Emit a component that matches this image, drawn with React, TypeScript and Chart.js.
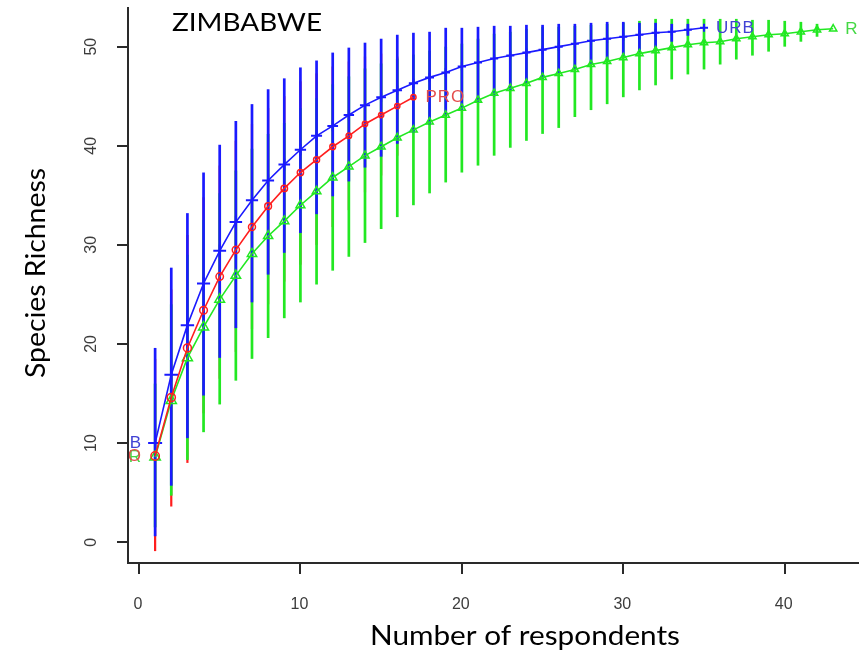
import React, { useEffect, useRef } from "react";
import { Chart, registerables } from "chart.js";
Chart.register(...registerables);

// ---------- data ----------
const seriesNames = ["URB", "PRO", "RUR"];
const chartTitle = "ZIMBABWE";
const xTitle = "Number of respondents";
const yTitle = "Species Richness";
const xTicks = [0, 10, 20, 30, 40];
const yTicks = [0, 10, 20, 30, 40, 50];

const urbN = [1, 2, 3, 4, 5, 6, 7, 8, 9, 10, 11, 12, 13, 14, 15, 16, 17, 18, 19, 20, 21, 22, 23, 24, 25, 26, 27, 28, 29, 30, 31, 32, 33, 34, 35];
const urbMean = [10.0, 16.9, 21.9, 26.1, 29.4, 32.3, 34.5, 36.5, 38.1, 39.6, 41.0, 42.0, 43.1, 44.1, 44.9, 45.6, 46.3, 46.9, 47.4, 48.0, 48.4, 48.8, 49.1, 49.4, 49.7, 50.0, 50.3, 50.6, 50.8, 51.0, 51.2, 51.4, 51.5, 51.7, 51.9];
const urbLower = [0.6, 5.7, 10.5, 14.8, 18.6, 21.6, 24.2, 27.0, 29.2, 31.2, 33.1, 34.9, 36.4, 37.8, 38.9, 40.2, 41.3, 42.1, 43.0, 43.6, 44.4, 45.0, 45.6, 46.3, 46.8, 47.3, 47.8, 48.3, 48.7, 49.1, 49.5, 49.9, 50.5, 51.1, null];
const urbUpper = [19.6, 27.7, 33.2, 37.3, 40.1, 42.5, 44.2, 45.7, 46.8, 47.9, 48.6, 49.4, 49.9, 50.4, 50.8, 51.2, 51.4, 51.5, 51.9, 51.9, 52.0, 52.1, 52.1, 52.2, 52.2, 52.3, 52.3, 52.4, 52.5, 52.5, 52.4, 52.4, 52.3, 52.3, null];

const proN = [1, 2, 3, 4, 5, 6, 7, 8, 9, 10, 11, 12, 13, 14, 15, 16, 17];
const proMean = [8.7, 14.6, 19.6, 23.4, 26.8, 29.5, 31.8, 33.9, 35.7, 37.3, 38.6, 39.9, 41.0, 42.2, 43.1, 44.0, 44.9];
const proLower = [-0.9, 3.6, 8.0, 13.0, 16.5, 19.2, 21.5, 24.0, 26.3, 28.0, 30.0, 31.8, 33.5, 35.3, 37.0, 39.0, null];
const proUpper = [18.5, 25.5, 31.0, 34.8, 38.0, 40.5, 42.2, 43.8, 45.0, 46.5, 47.3, 48.0, 48.5, 49.0, 49.3, 49.0, null];

const rurN = [1, 2, 3, 4, 5, 6, 7, 8, 9, 10, 11, 12, 13, 14, 15, 16, 17, 18, 19, 20, 21, 22, 23, 24, 25, 26, 27, 28, 29, 30, 31, 32, 33, 34, 35, 36, 37, 38, 39, 40, 41, 42, 43];
const rurMean = [8.6, 14.3, 18.6, 21.7, 24.5, 26.9, 29.1, 30.9, 32.4, 34.0, 35.4, 36.8, 37.9, 39.0, 39.9, 40.8, 41.6, 42.4, 43.1, 43.8, 44.6, 45.3, 45.8, 46.3, 46.9, 47.3, 47.7, 48.2, 48.5, 48.9, 49.3, 49.6, 49.9, 50.2, 50.4, 50.5, 50.8, 51.0, 51.2, 51.3, 51.5, 51.7, 51.8];
const rurLower = [1.5, 4.7, 8.3, 11.1, 13.9, 16.3, 18.5, 20.6, 22.6, 24.2, 26.0, 27.4, 28.8, 30.2, 31.6, 32.8, 34.0, 35.2, 36.3, 37.3, 38.0, 39.0, 39.8, 40.5, 41.2, 41.8, 42.9, 43.6, 44.2, 44.9, 45.6, 46.1, 46.7, 47.2, 47.7, 48.2, 48.7, 49.1, 49.5, 50.0, 50.5, 51.0, null];
const rurUpper = [16.0, 24.0, 29.0, 32.5, 35.2, 37.5, 39.7, 41.2, 42.3, 43.8, 44.8, 46.2, 47.0, 47.8, 48.3, 48.8, 49.2, 49.6, 50.0, 50.3, 50.8, 51.3, 51.5, 51.8, 52.0, 52.0, 52.1, 52.2, 52.3, 52.4, 52.6, 52.8, 52.8, 52.8, 52.8, 52.8, 52.8, 52.7, 52.7, 52.6, 52.5, 52.3, null];

// ---------- styles ----------
const BLUE = "#1a1aff";
const RED = "#ff1e1e";
const GREEN = "#22e822";
const BLUE_TXT = "#4242d4";
const RED_TXT = "#e44c4c";
const GREEN_TXT = "#44d844";
const AXIS = "#2a2a2a";
const TICK_TXT = "#3c3c3c";

type Bars = { n: number[]; lo: (number | null)[]; hi: (number | null)[]; color: string; w: number };

const errorBars: Bars[] = [
  { n: proN, lo: proLower, hi: proUpper, color: RED, w: 2.2 },
  { n: rurN, lo: rurLower, hi: rurUpper, color: GREEN, w: 2.7 },
  { n: urbN, lo: urbLower, hi: urbUpper, color: BLUE, w: 2.7 },
];

function fitText(ctx: CanvasRenderingContext2D, text: string, x: number, y: number, width: number, size: number, family: string, color: string) {
  ctx.save();
  ctx.font = `${size}px ${family}`;
  const w = ctx.measureText(text).width;
  ctx.translate(x, y);
  ctx.scale(width / w, 1);
  ctx.fillStyle = color;
  ctx.textAlign = "center";
  ctx.textBaseline = "alphabetic";
  ctx.fillText(text, 0, 0);
  ctx.restore();
}

const plugin = {
  id: "decor",
  beforeDatasetsDraw(chart: any) {
    const { ctx, chartArea, scales } = chart;
    const x = scales.x, y = scales.y;
    ctx.save();
    ctx.beginPath();
    ctx.rect(chartArea.left, chartArea.top, chartArea.right - chartArea.left, chartArea.bottom - chartArea.top);
    ctx.clip();
    ctx.lineCap = "butt";
    for (const b of errorBars) {
      ctx.strokeStyle = b.color;
      ctx.lineWidth = b.w;
      b.n.forEach((n, i) => {
        const lo = b.lo[i], hi = b.hi[i];
        if (lo == null || hi == null) return;
        const px = x.getPixelForValue(n);
        ctx.beginPath();
        ctx.moveTo(px, y.getPixelForValue(lo));
        ctx.lineTo(px, y.getPixelForValue(hi));
        ctx.stroke();
      });
    }
    ctx.restore();
  },
  afterDatasetsDraw(chart: any) {
    const { ctx, chartArea, scales } = chart;
    const x = scales.x, y = scales.y;
    const labs = [
      { name: seriesNames[0], n: urbN, m: urbMean, color: BLUE_TXT },
      { name: seriesNames[1], n: proN, m: proMean, color: RED_TXT },
      { name: seriesNames[2], n: rurN, m: rurMean, color: GREEN_TXT },
    ];
    ctx.save();
    ctx.font = "17px 'Liberation Sans'";
    (ctx as any).letterSpacing = "1px";
    ctx.textBaseline = "middle";
    for (const l of labs) {
      const i = l.n.length - 1;
      ctx.fillStyle = l.color;
      ctx.textAlign = "left";
      ctx.fillText(l.name, x.getPixelForValue(l.n[i]) + 12, y.getPixelForValue(l.m[i]));
    }
    ctx.beginPath();
    ctx.rect(chartArea.left + 1, chartArea.top, chartArea.right - chartArea.left, chartArea.bottom - chartArea.top);
    ctx.clip();
    for (const l of [labs[2], labs[1], labs[0]]) {
      ctx.fillStyle = l.color;
      ctx.textAlign = "right";
      ctx.fillText(l.name, x.getPixelForValue(0) + 3, y.getPixelForValue(l.m[0]));
    }
    ctx.restore();
  },
  afterDraw(chart: any) {
    const { ctx, scales, chartArea } = chart;
    const x = scales.x, y = scales.y;
    ctx.save();
    ctx.font = "16px 'Liberation Sans'";
    ctx.fillStyle = TICK_TXT;
    ctx.textAlign = "center";
    ctx.textBaseline = "middle";
    for (const v of yTicks) {
      ctx.save();
      ctx.translate(92, y.getPixelForValue(v));
      ctx.rotate(-Math.PI / 2);
      ctx.fillText(String(v), 0, 0);
      ctx.restore();
    }
    for (const v of xTicks) {
      ctx.fillText(String(v), x.getPixelForValue(v) - 1, chartArea.bottom + 42);
    }
    ctx.restore();
    fitText(ctx, xTitle, 525, 645, 310, 27, "Lato", "#000");
    fitText(ctx, chartTitle, 247, 31, 150, 25, "Lato", "#000");
    ctx.save();
    ctx.translate(45, 273);
    ctx.rotate(-Math.PI / 2);
    fitText(ctx, yTitle, 0, 0, 210, 27, "Lato", "#000");
    ctx.restore();
  },
};

export default function App() {
  const ref = useRef<HTMLCanvasElement>(null);
  useEffect(() => {
    const canvas = ref.current!;
    const toPts = (n: number[], m: number[]) => n.map((v, i) => ({ x: v, y: m[i] }));
    const chart = new Chart(canvas, {
      type: "line",
      data: {
        datasets: [
          {
            label: seriesNames[1],
            data: toPts(proN, proMean),
            borderColor: RED,
            borderWidth: 1.6,
            pointStyle: "circle",
            pointRadius: (c: any) => Math.max(2.6, 4.2 - c.dataIndex * 0.12),
            pointBorderColor: RED,
            pointBackgroundColor: "rgba(0,0,0,0)",
            pointBorderWidth: 1.5,
            tension: 0,
          },
          {
            label: seriesNames[2],
            data: toPts(rurN, rurMean),
            borderColor: GREEN,
            borderWidth: 1.6,
            pointStyle: "triangle",
            pointRadius: (c: any) => Math.max(4.2, 6 - c.dataIndex * 0.1),
            pointBorderColor: GREEN,
            pointBackgroundColor: "rgba(0,0,0,0)",
            pointBorderWidth: 1.5,
            tension: 0,
          },
          {
            label: seriesNames[0],
            data: toPts(urbN, urbMean),
            borderColor: BLUE,
            borderWidth: 1.6,
            pointStyle: "cross",
            pointRadius: (c: any) => Math.max(4, 7 - c.dataIndex * 0.15),
            pointBorderColor: BLUE,
            pointBorderWidth: 2,
            tension: 0,
          },
        ],
      },
      options: {
        responsive: false,
        animation: false,
        devicePixelRatio: 1,
        layout: { autoPadding: false, padding: { top: 8, left: 0, right: 0, bottom: 0 } },
        plugins: { legend: { display: false }, tooltip: { enabled: false }, title: { display: false } },
        scales: {
          x: {
            type: "linear",
            bounds: "data",
            min: -0.68,
            max: 44.6,
            afterFit: (s: any) => { s.height = 91; s.paddingLeft = 0; s.paddingRight = 0; },
            afterBuildTicks: (s: any) => { s.ticks = xTicks.map((v) => ({ value: v })); },
            ticks: { display: false, includeBounds: false },
            grid: { display: true, drawOnChartArea: false, drawTicks: true, tickLength: 11, color: AXIS, lineWidth: 2 },
            border: { display: true, color: AXIS, width: 2 },
          },
          y: {
            type: "linear",
            bounds: "data",
            min: -2.1,
            max: 53.9,
            afterFit: (s: any) => { s.width = 128; s.paddingTop = 0; s.paddingBottom = 0; },
            afterBuildTicks: (s: any) => { s.ticks = yTicks.map((v) => ({ value: v })); },
            ticks: { display: false, includeBounds: false },
            grid: { display: true, drawOnChartArea: false, drawTicks: true, tickLength: 11, color: AXIS, lineWidth: 2 },
            border: { display: true, color: AXIS, width: 2 },
          },
        },
      } as any,
      plugins: [plugin],
    });
    return () => chart.destroy();
  }, []);
  return (
    <div style={{ position: "fixed", left: 0, top: 0, width: 859, height: 654, background: "#fff" }}>
      <canvas ref={ref} width={859} height={654} style={{ width: 859, height: 654, display: "block" }} />
    </div>
  );
}
